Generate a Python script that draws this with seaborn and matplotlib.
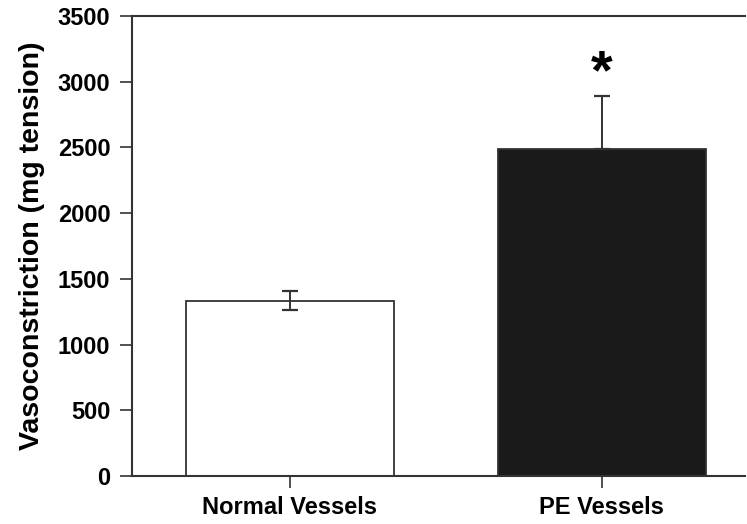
import matplotlib
matplotlib.use("Agg")
import matplotlib.pyplot as plt
import seaborn as sns
import pandas as pd

categories = ["Normal Vessels", "PE Vessels"]
values = [1335, 2490]
err_low = [75, 0]
err_high = [75, 400]
bar_colors = ["#ffffff", "#1a1a1a"]
yticks = [0, 500, 1000, 1500, 2000, 2500, 3000, 3500]

sns.set_theme(style="white")
plt.rcParams["font.family"] = ["Liberation Sans", "DejaVu Sans"]
plt.rcParams["font.weight"] = "bold"
plt.rcParams["text.color"] = "#000000"
plt.rcParams["axes.labelcolor"] = "#000000"
plt.rcParams["xtick.color"] = "#000000"
plt.rcParams["ytick.color"] = "#000000"

fig = plt.figure(figsize=(7.47, 5.24), dpi=100)
ax = fig.add_axes([132/747, 48/524, 613/747, 460/524])

df = pd.DataFrame({"cat": categories, "val": values})
sns.barplot(data=df, x="cat", y="val", hue="cat", palette=bar_colors,
            width=0.667, edgecolor="#333333", linewidth=1.3, legend=False,
            errorbar=None, ax=ax, saturation=1)
for bar in ax.patches:
    bar.set_zorder(2)

ax.errorbar(x=[0, 1], y=values, yerr=[err_low, err_high], fmt="none",
            ecolor="#333333", elinewidth=1.4, capsize=6, capthick=1.6, zorder=3)

ax.text(1, 3060, "*", ha="center", va="center", fontsize=40, fontweight="bold", color="#000000")

ax.set_ylim(0, 3500)
ax.set_xlim(-0.506, 1.46)
ax.set_yticks(yticks)
ax.set_yticklabels([str(t) for t in yticks], fontsize=17, fontweight="bold")
ax.set_xticks([0, 1])
ax.set_xticklabels(categories, fontsize=17, fontweight="bold")
ax.set_xlabel("")
ax.set_ylabel("Vasoconstriction (mg tension)", fontsize=20.5, fontweight="bold", labelpad=9)

for s in ["left", "bottom", "top"]:
    ax.spines[s].set_color("#333333")
    ax.spines[s].set_linewidth(1.5)
ax.spines["right"].set_visible(False)
ax.tick_params(axis="y", direction="out", length=8.6, width=1.2, color="#333333", labelcolor="#000000", pad=7, left=True)
ax.tick_params(axis="x", direction="out", length=8.6, width=1.2, color="#333333", labelcolor="#000000", pad=6, bottom=True)

fig.savefig("out.png", dpi=100)
